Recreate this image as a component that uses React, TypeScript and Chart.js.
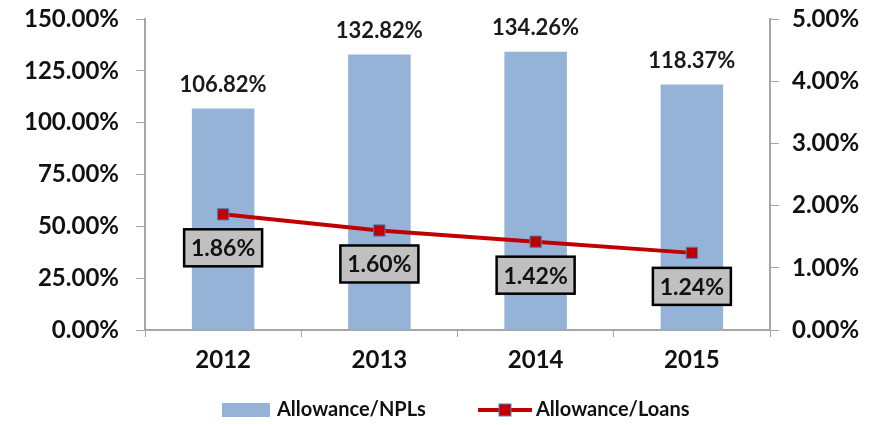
import React, { useEffect, useRef } from "react";
import { Chart, registerables } from "chart.js";
Chart.register(...registerables);

const categories = ["2012", "2013", "2014", "2015"];
const allowanceNPLs = [106.82, 132.82, 134.26, 118.37];
const allowanceLoans = [1.86, 1.6, 1.42, 1.24];
const leftTicks = [0, 25, 50, 75, 100, 125, 150];
const rightTicks = [0, 1, 2, 3, 4, 5];
const seriesNames = ["Allowance/NPLs", "Allowance/Loans"];

const FONT = "Lato, 'Liberation Sans', sans-serif";
const BAR = "#95B3D7";
const RED = "#C00000";
const AXIS = "#A6A6A6";

const labelPlugin = {
  id: "labels",
  afterDatasetsDraw(chart: any) {
    const ctx = chart.ctx;
    ctx.save();
    const m0 = chart.getDatasetMeta(0);
    ctx.font = `bold 22px ${FONT}`;
    ctx.fillStyle = "#1a1a1a";
    ctx.textAlign = "center";
    ctx.textBaseline = "middle";
    m0.data.forEach((el: any, i: number) => {
      ctx.fillText(allowanceNPLs[i].toFixed(2) + "%", el.x, el.y - 24);
    });
    const m1 = chart.getDatasetMeta(1);
    ctx.font = `bold 23px ${FONT}`;
    m1.data.forEach((el: any, i: number) => {
      const w = 78, h = 37;
      const x = el.x - w / 2, y = el.y + 15;
      ctx.fillStyle = "#C0C0C0";
      ctx.fillRect(x, y, w, h);
      ctx.lineWidth = 2.5;
      ctx.strokeStyle = "#000";
      ctx.strokeRect(x, y, w, h);
      ctx.fillStyle = "#111";
      ctx.fillText(allowanceLoans[i].toFixed(2) + "%", el.x, y + h / 2 + 1);
    });
    ctx.restore();
  },
  afterDraw(chart: any) {
    const ctx = chart.ctx;
    ctx.save();
    const ly = 410;
    ctx.fillStyle = BAR;
    ctx.fillRect(222, ly - 7, 48, 14);
    ctx.font = `bold 20px ${FONT}`;
    ctx.fillStyle = "#111";
    ctx.textAlign = "left";
    ctx.textBaseline = "middle";
    ctx.fillText(seriesNames[0], 277, ly);
    ctx.strokeStyle = RED;
    ctx.lineWidth = 4;
    ctx.beginPath();
    ctx.moveTo(478, ly);
    ctx.lineTo(532, ly);
    ctx.stroke();
    ctx.fillStyle = RED;
    ctx.fillRect(499, ly - 6, 12, 12);
    ctx.strokeStyle = "#4F81BD";
    ctx.lineWidth = 1;
    ctx.strokeRect(499, ly - 6, 12, 12);
    ctx.fillStyle = "#111";
    ctx.fillText(seriesNames[1], 536, ly);
    ctx.restore();
  },
};

export default function App() {
  const ref = useRef<HTMLCanvasElement>(null);
  useEffect(() => {
    const tickFont = { family: FONT, size: 24, weight: "bold" as const };
    const chart = new Chart(ref.current!, {
      type: "bar",
      data: {
        labels: categories,
        datasets: [
          {
            type: "bar",
            label: seriesNames[0],
            data: allowanceNPLs,
            backgroundColor: BAR,
            borderWidth: 0,
            barPercentage: 0.4,
            categoryPercentage: 1,
            yAxisID: "y",
            order: 2,
          },
          {
            type: "line",
            label: seriesNames[1],
            data: allowanceLoans,
            borderColor: RED,
            borderWidth: 4,
            pointStyle: "rect",
            pointRadius: 8,
            pointBackgroundColor: RED,
            pointBorderColor: "#4F81BD",
            pointBorderWidth: 1,
            yAxisID: "y1",
            order: 1,
          } as any,
        ],
      },
      options: {
        animation: false,
        responsive: true,
        maintainAspectRatio: false,
        layout: { autoPadding: false, padding: { top: 19, left: 0, right: 0, bottom: 0 } },
        plugins: { legend: { display: false }, tooltip: { enabled: false } },
        scales: {
          x: {
            grid: { offset: true, drawOnChartArea: false, drawTicks: true, tickLength: 7, color: AXIS },
            border: { color: AXIS, width: 2 },
            ticks: { font: tickFont, color: "#111", padding: 9 },
            afterFit: (s: any) => { s.height = 95; },
          },
          y: {
            position: "left",
            min: 0,
            max: 150,
            afterBuildTicks: (s: any) => { s.ticks = leftTicks.map((v) => ({ value: v })); },
            grid: { drawOnChartArea: false, drawTicks: true, tickLength: 9, color: AXIS },
            border: { color: AXIS, width: 2 },
            ticks: { font: tickFont, color: "#111", padding: 17, callback: (v: any) => Number(v).toFixed(2) + "%" },
            afterFit: (s: any) => { s.width = 145; s.paddingTop = 0; s.paddingBottom = 0; },
          },
          y1: {
            position: "right",
            min: 0,
            max: 5,
            afterBuildTicks: (s: any) => { s.ticks = rightTicks.map((v) => ({ value: v })); },
            grid: { drawOnChartArea: false, drawTicks: true, tickLength: 9, color: AXIS },
            border: { color: AXIS, width: 2 },
            ticks: { font: tickFont, color: "#111", padding: 13, callback: (v: any) => Number(v).toFixed(2) + "%" },
            afterFit: (s: any) => { s.width = 102; s.paddingTop = 0; s.paddingBottom = 0; },
          },
        },
      } as any,
      plugins: [labelPlugin],
    });
    return () => chart.destroy();
  }, []);
  return (
    <div style={{ position: "fixed", left: 0, top: 0, width: 872, height: 425, background: "#fff" }}>
      <canvas ref={ref} />
    </div>
  );
}
